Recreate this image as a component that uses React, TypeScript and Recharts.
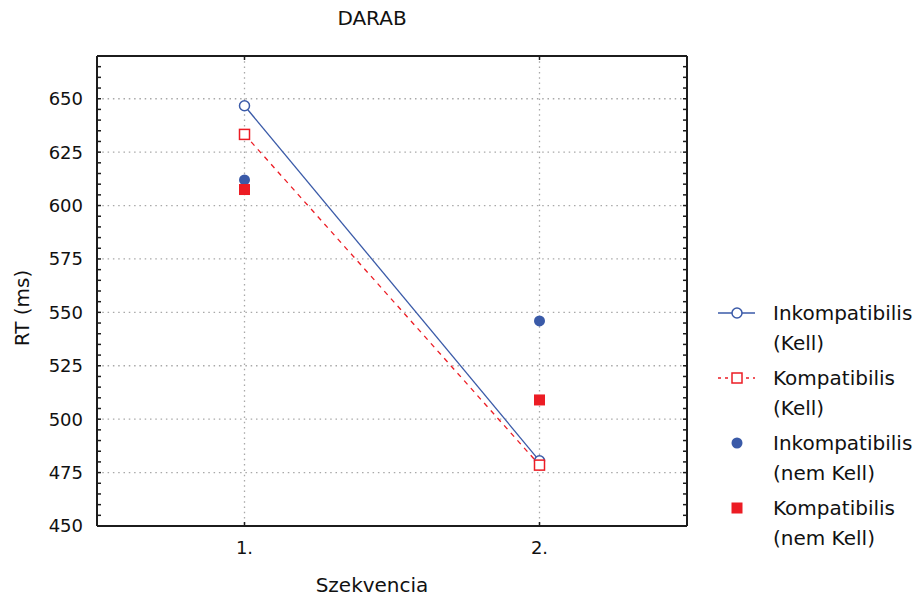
import { CartesianGrid, ComposedChart, Label, Line, XAxis, YAxis } from "recharts";

// Reaction times by sequence position, cued ("Kell") vs uncued ("nem Kell")
const sequenceValues = [1, 2];
const sequenceLabels = ["1.", "2."];
const incompatibleCued = [646.7, 480.5];
const compatibleCued = [633.3, 478.5];
const incompatibleUncued = [612, 546];
const compatibleUncued = [607.5, 509];

const rtDomain = [450, 670];
const rtMajorTicks = [450, 475, 500, 525, 550, 575, 600, 625, 650];
const rtGridLines = [475, 500, 525, 550, 575, 600, 625, 650];
// minor tick marks every 5 ms along the vertical frame
const rtMinorTicks = Array.from({ length: (rtDomain[1] - rtDomain[0]) / 5 + 1 }, (_, i) => rtDomain[0] + i * 5);

const BLUE = "#3a5aa8";
const RED = "#ec1c24";
const INK = "#1c1c1c";
const FONT = "'DejaVu Sans', Verdana, sans-serif";
const TICK_LEN = 4;
const LEFT_GAP = 14;
const BOTTOM_GAP = 15;

type Marker = "openCircle" | "openSquare" | "dot" | "square";

const series: { key: string; name: string[]; color: string; marker: Marker; dash?: string; legendDash?: string; line: boolean }[] = [
  { key: "incompatibleCued", name: ["Inkompatibilis", "(Kell)"], color: BLUE, marker: "openCircle", line: true },
  { key: "incompatibleUncued", name: ["Inkompatibilis", "(nem Kell)"], color: BLUE, marker: "dot", line: false },
  { key: "compatibleCued", name: ["Kompatibilis", "(Kell)"], color: RED, marker: "openSquare", dash: "5 5", legendDash: "3 4", line: true },
  { key: "compatibleUncued", name: ["Kompatibilis", "(nem Kell)"], color: RED, marker: "square", line: false },
];
// legend order differs from drawing order
const legendOrder = ["incompatibleCued", "compatibleCued", "incompatibleUncued", "compatibleUncued"];

const rows = sequenceValues.map((seq, i) => ({
  seq,
  incompatibleCued: incompatibleCued[i],
  compatibleCued: compatibleCued[i],
  incompatibleUncued: incompatibleUncued[i],
  compatibleUncued: compatibleUncued[i],
}));

function drawMarker(kind: Marker, color: string, cx: number, cy: number, key?: string | number) {
  switch (kind) {
    case "openCircle":
      return <circle key={key} cx={cx} cy={cy} r={5} fill="#fff" stroke={color} strokeWidth={1.5} />;
    case "openSquare":
      return <rect key={key} x={cx - 5} y={cy - 5} width={10} height={10} fill="#fff" stroke={color} strokeWidth={1.5} />;
    case "dot":
      return <circle key={key} cx={cx} cy={cy} r={5.5} fill={color} />;
    default:
      return <rect key={key} x={cx - 5.5} y={cy - 5.5} width={11} height={11} fill={color} />;
  }
}

const markerDot = (kind: Marker, color: string) => (props: any) => {
  const { cx, cy, index } = props;
  if (cx == null || cy == null) return <g key={index} />;
  return drawMarker(kind, color, cx, cy, index);
};

function LeftTick({ x, y, payload }: any) {
  const edge = x + LEFT_GAP;
  const major = rtMajorTicks.includes(payload.value);
  return (
    <g>
      <line x1={edge} x2={edge + TICK_LEN} y1={y} y2={y} stroke={INK} strokeWidth={1.5} />
      {major && (
        <text x={x} y={y} dy="0.36em" textAnchor="end" fontSize={18} fontFamily={FONT} fill="#111">
          {payload.value}
        </text>
      )}
    </g>
  );
}

function RightTick({ x, y }: any) {
  return <line x1={x - TICK_LEN} x2={x} y1={y} y2={y} stroke={INK} strokeWidth={1.5} />;
}

function BottomTick({ x, y, payload, index }: any) {
  const edge = y - BOTTOM_GAP;
  return (
    <g>
      <line x1={x} x2={x} y1={edge} y2={edge - TICK_LEN} stroke={INK} strokeWidth={1.5} />
      <text x={x} y={y} dy="0.71em" textAnchor="middle" fontSize={18} fontFamily={FONT} fill="#111">
        {sequenceLabels[sequenceValues.indexOf(payload.value)] ?? index}
      </text>
    </g>
  );
}

function TopTick({ x, y }: any) {
  return <line x1={x} x2={x} y1={y} y2={y + TICK_LEN} stroke={INK} strokeWidth={1.5} />;
}

function LegendSymbol({ item }: { item: (typeof series)[number] }) {
  return (
    <svg width={42} height={30} style={{ flex: "none" }}>
      {item.line && (
        <line x1={2} x2={39} y1={15} y2={15} stroke={item.color} strokeWidth={1.3} strokeDasharray={item.legendDash} />
      )}
      {drawMarker(item.marker, item.color, 21, 15)}
    </svg>
  );
}

export default function App() {
  return (
    <div style={{ position: "absolute", left: 0, top: 0, width: 924, height: 599, background: "#fff", fontFamily: FONT }}>
      <div style={{ position: "absolute", left: 272, top: 8, width: 200, textAlign: "center", fontSize: 20, lineHeight: "20px", color: "#111" }}>
        DARAB
      </div>

      <ComposedChart width={924} height={599} data={rows} margin={{ top: 55, right: 236, bottom: 0, left: 0 }}>
        <CartesianGrid
          xAxisId="bottom"
          yAxisId="left"
          stroke="#a8a8a8"
          strokeWidth={1.3}
          strokeDasharray="1.5 3.8"
          horizontalValues={rtGridLines}
          verticalValues={sequenceValues}
        />
        <XAxis
          xAxisId="bottom"
          type="number"
          dataKey="seq"
          domain={[0.5, 2.5]}
          ticks={sequenceValues}
          interval={0}
          height={73}
          tickSize={0}
          tickMargin={BOTTOM_GAP}
          axisLine={{ stroke: INK, strokeWidth: 2 }}
          tick={<BottomTick />}
        >
          <Label
            content={() => (
              <text x={372} y={585} dy="0.36em" textAnchor="middle" fontSize={20} fontFamily={FONT} fill="#111">
                Szekvencia
              </text>
            )}
          />
        </XAxis>
        <XAxis
          xAxisId="top"
          orientation="top"
          type="number"
          dataKey="seq"
          domain={[0.5, 2.5]}
          ticks={sequenceValues}
          interval={0}
          height={1}
          tickSize={0}
          tickMargin={0}
          axisLine={{ stroke: INK, strokeWidth: 2 }}
          tick={<TopTick />}
        />
        <YAxis
          yAxisId="left"
          type="number"
          domain={rtDomain}
          ticks={rtMinorTicks}
          interval={0}
          width={97}
          tickSize={0}
          tickMargin={LEFT_GAP}
          allowDataOverflow
          axisLine={{ stroke: INK, strokeWidth: 2 }}
          tick={<LeftTick />}
        >
          <Label
            content={() => (
              <text
                x={22}
                y={308}
                dy="0.36em"
                textAnchor="middle"
                transform="rotate(-90, 22, 308)"
                fontSize={20}
                fontFamily={FONT}
                fill="#111"
              >
                RT (ms)
              </text>
            )}
          />
        </YAxis>
        <YAxis
          yAxisId="right"
          orientation="right"
          type="number"
          domain={rtDomain}
          ticks={rtMinorTicks}
          interval={0}
          width={1}
          tickSize={0}
          tickMargin={0}
          allowDataOverflow
          axisLine={{ stroke: INK, strokeWidth: 2 }}
          tick={<RightTick />}
        />

        {series.map((s) => (
          <Line
            key={s.key}
            xAxisId="bottom"
            yAxisId="left"
            type="linear"
            dataKey={s.key}
            stroke={s.line ? s.color : "none"}
            strokeWidth={1.3}
            strokeDasharray={s.dash}
            dot={markerDot(s.marker, s.color)}
            activeDot={false}
            isAnimationActive={false}
          />
        ))}
      </ComposedChart>

      <div style={{ position: "absolute", left: 716, top: 298, color: "#111", fontSize: 20, lineHeight: "30px" }}>
        {legendOrder.map((key) => {
          const item = series.find((s) => s.key === key)!;
          return (
            <div key={key} style={{ display: "flex", alignItems: "flex-start", height: 65 }}>
              <LegendSymbol item={item} />
              <div style={{ marginLeft: 15 }}>
                {item.name.map((line) => (
                  <div key={line}>{line}</div>
                ))}
              </div>
            </div>
          );
        })}
      </div>
    </div>
  );
}
